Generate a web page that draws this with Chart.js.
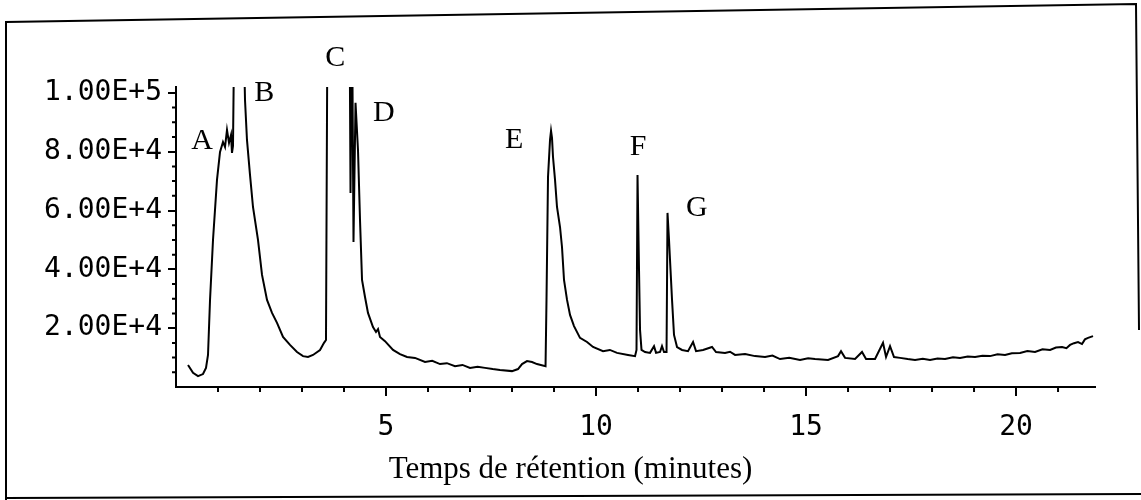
<!DOCTYPE html>
<html>
<head>
<meta charset="utf-8">
<script src="https://cdn.jsdelivr.net/npm/chart.js@4"></script>
<style>
  html, body { margin: 0; padding: 0; background: #fff; }
  #wrap { width: 1141px; height: 500px; position: relative; }
</style>
</head>
<body>
<div id="wrap"><canvas id="chromChart"></canvas></div>
<script>
// retention time (min) and detector response
var retentionTimes = [
  0.286, 0.405, 0.524, 0.643, 0.714, 0.762, 0.810, 0.881, 0.976, 1.048,
  1.119, 1.167, 1.214, 1.262, 1.310, 1.333, 1.357, 1.393, 1.595, 1.643,
  1.690, 1.762, 1.833, 1.952, 2.048, 2.167, 2.286, 2.405, 2.548, 2.714,
  2.881, 3.024, 3.143, 3.262, 3.429, 3.524, 3.571, 3.607, 4.131, 4.155,
  4.190, 4.226, 4.274, 4.333, 4.381, 4.429, 4.500, 4.571, 4.690, 4.762,
  4.810, 4.857, 4.976, 5.167, 5.333, 5.500, 5.690, 5.929, 6.100, 6.286,
  6.450, 6.643, 6.820, 7.000, 7.180, 7.357, 7.540, 7.714, 8.000, 8.143,
  8.238, 8.357, 8.476, 8.595, 8.798, 8.821, 8.857, 8.905, 8.929, 8.952,
  8.976, 9.024, 9.071, 9.143, 9.190, 9.238, 9.310, 9.381, 9.476, 9.619,
  9.786, 9.929, 10.167, 10.330, 10.500, 10.762, 10.929, 10.964, 10.988, 11.024,
  11.048, 11.083, 11.167, 11.286, 11.381, 11.429, 11.524, 11.571, 11.619, 11.679,
  11.702, 11.738, 11.774, 11.810, 11.857, 11.929, 12.048, 12.190, 12.310, 12.381,
  12.548, 12.762, 12.857, 13.071, 13.190, 13.310, 13.548, 13.786, 14.024, 14.200,
  14.381, 14.600, 14.857, 15.050, 15.214, 15.524, 15.762, 15.833, 15.929, 16.167,
  16.333, 16.429, 16.643, 16.833, 16.905, 17.000, 17.095, 17.238, 17.420, 17.595,
  17.780, 17.952, 18.130, 18.310, 18.500, 18.667, 18.850, 19.024, 19.200, 19.381,
  19.560, 19.738, 19.900, 20.095, 20.270, 20.452, 20.630, 20.810, 20.950, 21.095,
  21.200, 21.286, 21.380, 21.476, 21.571, 21.640, 21.714, 21.833
];
var intensities = [
  7500, 4800, 3700, 4400, 6500, 10900, 29600, 50000, 70400, 79900,
  83300, 81600, 87400, 83000, 85700, 79600, 82000, 130000, 130000, 97600,
  84000, 72100, 61200, 50000, 38100, 29600, 25200, 21800, 17000, 14300,
  11900, 10500, 10200, 10900, 12600, 15000, 16000, 130000, 130000, 66000,
  130000, 49300, 96600, 80600, 56800, 36400, 30600, 25200, 20400, 18700,
  19700, 17000, 15600, 12600, 11200, 10200, 9900, 8500, 8900, 7800,
  8100, 7100, 7500, 6500, 6900, 6500, 6100, 5800, 5400, 6100,
  7800, 8800, 8500, 7800, 7100, 29600, 71400, 84000, 87100, 84700,
  78200, 70400, 61200, 54400, 47600, 36400, 29600, 24500, 20700, 16700,
  15300, 13600, 12200, 12600, 11600, 10900, 10500, 12600, 72100, 39500,
  19400, 12600, 11900, 11600, 13900, 11600, 11900, 13900, 11900, 11900,
  59200, 50000, 39800, 29600, 17700, 13600, 12600, 12200, 15300, 12200,
  12600, 13600, 11900, 11600, 12000, 10900, 11200, 10500, 10200, 10700,
  9500, 9900, 9200, 9800, 9500, 9200, 10500, 12200, 9900, 9500,
  11900, 9500, 9500, 15000, 10200, 13900, 10200, 9900, 9500, 9200,
  9600, 9200, 9700, 9500, 10100, 9900, 10400, 10200, 10600, 10500,
  11100, 10900, 11500, 11600, 12200, 11900, 12800, 12600, 13400, 13600,
  13200, 14300, 14900, 15300, 14600, 16200, 16700, 17300
];

var xTickValues = [5, 10, 15, 20];
var xMinorTicks = [1, 2, 3, 4, 6, 7, 8, 9, 11, 12, 13, 14, 16, 17, 18, 19, 21];
var yTickValues = [20000, 40000, 60000, 80000, 100000];
var yMinorTicks = [5000, 10000, 15000, 25000, 30000, 35000, 45000, 50000, 55000,
                   65000, 70000, 75000, 85000, 90000, 95000];

var peakNames = ["A", "B", "C", "D", "E", "F", "G"];
var peakLabelTimes = [0.62, 2.10, 3.79, 4.95, 8.05, 11.0, 12.4];
var peakLabelHeights = [83700, 100000, 111900, 93200, 84000, 81600, 60900];

var xTitle = "Temps de rétention (minutes)";

var monoFont = '"DejaVu Sans Mono", "Liberation Mono", monospace';
var serifFont = '"Liberation Serif", "Times New Roman", serif';

var points = retentionTimes.map(function (t, i) {
  return { x: t, y: intensities[i] };
});

// small tick marks between the labelled ones
var minorTicks = {
  id: "minorTicks",
  afterDraw: function (chart) {
    var ctx = chart.ctx, xs = chart.scales.x, ys = chart.scales.y, area = chart.chartArea;
    ctx.save();
    ctx.strokeStyle = "#000";
    ctx.lineWidth = 2;
    ctx.beginPath();
    xMinorTicks.forEach(function (v) {
      var px = xs.getPixelForValue(v);
      ctx.moveTo(px, area.bottom);
      ctx.lineTo(px, area.bottom + 5);
    });
    yMinorTicks.forEach(function (v) {
      var py = ys.getPixelForValue(v);
      ctx.moveTo(area.left, py);
      ctx.lineTo(area.left - 4, py);
    });
    ctx.stroke();
    ctx.restore();
  }
};

var peakLetters = {
  id: "peakLetters",
  afterDraw: function (chart) {
    var ctx = chart.ctx, xs = chart.scales.x, ys = chart.scales.y;
    ctx.save();
    ctx.fillStyle = "#000";
    ctx.font = "30px " + serifFont;
    ctx.textAlign = "center";
    ctx.textBaseline = "middle";
    peakNames.forEach(function (name, i) {
      ctx.fillText(name, xs.getPixelForValue(peakLabelTimes[i]), ys.getPixelForValue(peakLabelHeights[i]));
    });
    ctx.restore();
  }
};

// the scanned page frame, slightly tilted
var pageFrame = {
  id: "pageFrame",
  afterDraw: function (chart) {
    var ctx = chart.ctx;
    ctx.save();
    ctx.strokeStyle = "#000";
    ctx.lineWidth = 2;
    ctx.beginPath();
    ctx.moveTo(6, 500);
    ctx.lineTo(6, 22);
    ctx.lineTo(1136, 4);
    ctx.lineTo(1139, 330);
    ctx.moveTo(6, 498);
    ctx.lineTo(1141, 494);
    ctx.stroke();
    ctx.restore();
  }
};

var ctx = document.getElementById("chromChart").getContext("2d");
var chart = new Chart(ctx, {
  type: "line",
  data: {
    datasets: [
      {
        data: points,
        borderColor: "#000",
        borderWidth: 2,
        pointRadius: 0,
        tension: 0,
        fill: false,
        clip: 0
      }
    ]
  },
  options: {
    responsive: true,
    maintainAspectRatio: false,
    animation: false,
    layout: { padding: { top: 87, right: 0, left: 0, bottom: 0 } },
    plugins: {
      legend: { display: false },
      tooltip: { enabled: false },
      title: {
        display: true,
        text: xTitle,
        position: "bottom",
        color: "#000",
        font: { family: serifFont, size: 31, weight: "normal" },
        padding: { top: 0, bottom: 12 }
      }
    },
    scales: {
      x: {
        type: "linear",
        min: 0,
        max: 21.88,
        border: { display: true, color: "#000", width: 2 },
        grid: { drawOnChartArea: false, drawTicks: true, tickLength: 9, color: "#000", lineWidth: 2 },
        ticks: {
          color: "#000",
          font: { family: monoFont, size: 28 },
          padding: 15,
          maxRotation: 0,
          autoSkip: false
        },
        afterBuildTicks: function (scale) {
          scale.ticks = xTickValues.map(function (v) { return { value: v }; });
        },
        afterFit: function (scale) {
          scale.height = 63.8;
        }
      },
      y: {
        min: 0,
        max: 102000,
        border: { display: true, color: "#000", width: 2 },
        grid: { drawOnChartArea: false, drawTicks: true, tickLength: 8, color: "#000", lineWidth: 2 },
        ticks: {
          color: "#000",
          font: { family: monoFont, size: 28 },
          padding: 6,
          callback: function (v) { return Number(v).toExponential(2).toUpperCase(); }
        },
        afterBuildTicks: function (scale) {
          scale.ticks = yTickValues.map(function (v) { return { value: v }; });
        },
        afterFit: function (scale) {
          scale.width = 176;
        }
      },
      // empty right-hand strip so the plot ends where the original does
      yRight: {
        position: "right",
        display: true,
        grid: { display: false },
        border: { display: false },
        ticks: { display: false },
        afterFit: function (scale) {
          scale.width = 46;
        }
      }
    }
  },
  plugins: [minorTicks, peakLetters, pageFrame]
});
</script>
</body>
</html>
